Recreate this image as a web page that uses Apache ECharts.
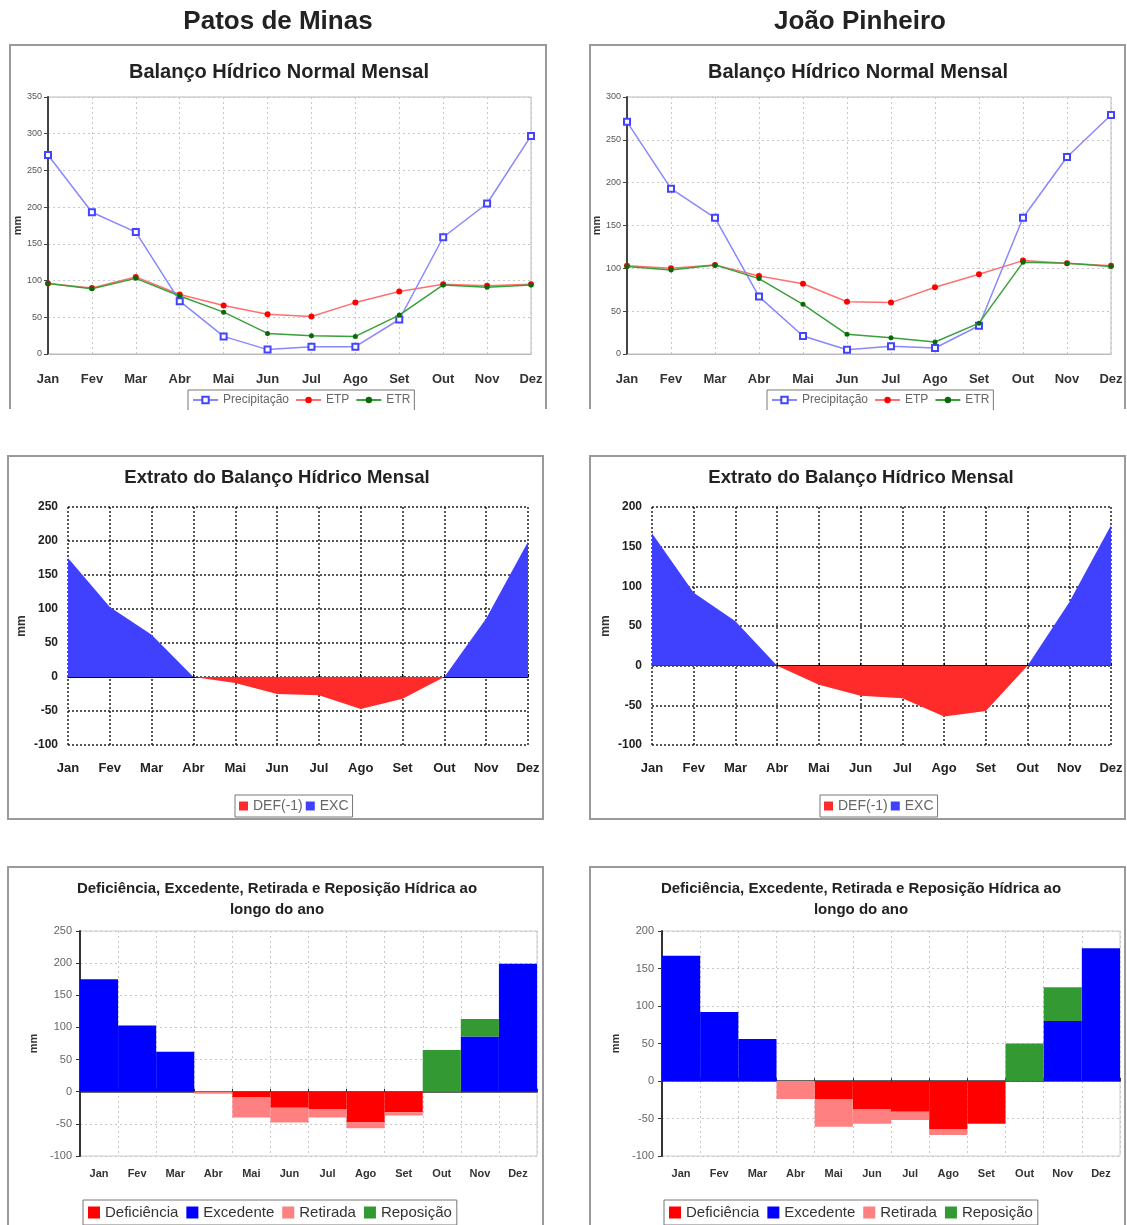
<!DOCTYPE html>
<html><head><meta charset="utf-8">
<script src="https://cdn.jsdelivr.net/npm/echarts@6/dist/echarts.min.js"></script>
<style>html,body{margin:0;padding:0;background:#fff;} #c{width:1127px;height:1225px;}</style>
</head><body><div id="c"></div>
<script>
// ---------- DATA ----------
const months = ['Jan','Fev','Mar','Abr','Mai','Jun','Jul','Ago','Set','Out','Nov','Dez'];

// Patos de Minas
const patosPrecip = [271,193,166,72,24,6,10,10,47,159,205,297];
const patosETP    = [96,90,105,81,66,54,51,70,85,95,93,95];
const patosETR    = [96,89,103,79,57,28,25,24,53,94,91,94];
const patosDEF    = [0,0,0,0,-9,-25,-27,-47,-32,0,0,0];
const patosEXC    = [175,103,62,0,0,0,0,0,0,0,86,199];
const patosRetirada  = [0,0,0,-3,-31,-23,-13,-10,-5,0,0,0];
const patosReposicao = [0,0,0,0,0,0,0,0,0,65,27,0];

// João Pinheiro
const joaoPrecip = [271,193,159,67,21,5,9,7,33,159,230,279];
const joaoETP    = [103,100,104,91,82,61,60,78,93,109,106,103];
const joaoETR    = [102,98,104,88,58,23,19,14,36,107,106,102];
const joaoDEF    = [0,0,0,0,-24,-38,-41,-64,-57,0,0,0];
const joaoEXC    = [167,92,56,0,0,0,0,0,0,0,80,177];
const joaoRetirada  = [0,0,0,-24,-37,-19,-11,-8,0,0,0,0];
const joaoReposicao = [0,0,0,0,0,0,0,0,0,50,45,0];

// axis tick settings
const yTop1 = {min:0, max:350, interval:50};
const yTop2 = {min:0, max:300, interval:50};
const yMid1 = {min:-100, max:250, interval:50};
const yMid2 = {min:-100, max:200, interval:50};
const yBot1 = {min:-100, max:250, interval:50};
const yBot2 = {min:-100, max:200, interval:50};

// ---------- CHART ----------
const FONT = '"Liberation Sans", Arial, sans-serif';
const chart = echarts.init(document.getElementById('c'));

function title(text, x, y, size, extra) {
  return Object.assign({
    text: text, left: x, top: y, textAlign: 'center', textVerticalAlign: 'middle', padding: 0,
    textStyle: {fontFamily: FONT, fontWeight: 'bold', fontSize: size, color: '#222'}
  }, extra || {});
}

const grids = [
  {left:48, top:97, width:483, height:257, show:true, borderColor:'#bbb', borderWidth:1},
  {left:627, top:97, width:484, height:257, show:true, borderColor:'#bbb', borderWidth:1},
  {left:68, top:507, width:460, height:238},
  {left:652, top:507, width:459, height:238},
  {left:80, top:931, width:457, height:225, show:true, borderColor:'#ccc', borderWidth:1},
  {left:662, top:931, width:458, height:225, show:true, borderColor:'#ccc', borderWidth:1}
].map(g => Object.assign({containLabel:false, outerBoundsMode:'none'}, g));

function xTop(gi) {
  return {type:'category', gridIndex:gi, data:months, boundaryGap:false,
    axisLine:{show:true, lineStyle:{color:'#bbb'}}, axisTick:{show:false},
    axisLabel:{interval:0, margin:19, fontFamily:FONT, fontWeight:'bold', fontSize:13, color:'#333'},
    splitLine:{show:true, interval:0, lineStyle:{color:'#c8c8c8', type:[2,3], width:1}}};
}
function xMid(gi) {
  return {type:'category', gridIndex:gi, data:months, boundaryGap:false,
    axisLine:{show:false, onZero:false}, axisTick:{show:false},
    axisLabel:{interval:0, margin:17, fontFamily:FONT, fontWeight:'bold', fontSize:13, color:'#222'},
    splitLine:{show:true, interval:0, lineStyle:{color:'#222', type:[2,2], width:1.5}}};
}
function xBot(gi) {
  return {type:'category', gridIndex:gi, data:months, boundaryGap:true,
    axisLine:{show:false, onZero:false}, axisTick:{show:false},
    axisLabel:{interval:0, margin:12, fontFamily:FONT, fontWeight:'bold', fontSize:11, color:'#333'},
    splitLine:{show:true, interval:0, lineStyle:{color:'#c8c8c8', type:[2,3], width:1}}};
}
function xZero(gi, gap, color, w) {
  return {type:'category', gridIndex:gi, data:months, boundaryGap:gap,
    axisLine:{show:true, onZero:true, lineStyle:{color:color, width:w}},
    axisTick:{show:true, length:3, interval:0, lineStyle:{color:color}},
    axisLabel:{show:false}, splitLine:{show:false}};
}
function yTop(gi, r, gap) {
  return Object.assign({type:'value', gridIndex:gi, name:'mm', nameLocation:'middle', nameGap:gap, nameRotate:90,
    nameTextStyle:{fontFamily:FONT, fontWeight:'bold', fontSize:11, color:'#333'},
    axisLine:{show:true, lineStyle:{color:'#444', width:2}},
    axisTick:{show:true, length:4, lineStyle:{color:'#444'}},
    axisLabel:{margin:6, fontFamily:FONT, fontSize:9, color:'#555'},
    splitLine:{show:true, lineStyle:{color:'#c8c8c8', type:[2,3], width:1}}}, r);
}
function yMid(gi, r, gap) {
  return Object.assign({type:'value', gridIndex:gi, name:'mm', nameLocation:'middle', nameGap:gap, nameRotate:90,
    nameTextStyle:{fontFamily:FONT, fontWeight:'bold', fontSize:12, color:'#333'},
    axisLine:{show:false}, axisTick:{show:false},
    axisLabel:{margin:10, fontFamily:FONT, fontWeight:'bold', fontSize:12, color:'#222'},
    splitLine:{show:true, lineStyle:{color:'#222', type:[2,2], width:1.5}}}, r);
}
function yBot(gi, r, gap) {
  return Object.assign({type:'value', gridIndex:gi, name:'mm', nameLocation:'middle', nameGap:gap, nameRotate:90,
    nameTextStyle:{fontFamily:FONT, fontWeight:'bold', fontSize:11, color:'#333'},
    axisLine:{show:true, lineStyle:{color:'#333', width:2}},
    axisTick:{show:true, length:4, lineStyle:{color:'#333'}},
    axisLabel:{margin:8, fontFamily:FONT, fontSize:11, color:'#666'},
    splitLine:{show:true, lineStyle:{color:'#c8c8c8', type:[2,3], width:1}}}, r);
}

function lineSeries(xi, yi, p, etp, etr) {
  return [
    {name:'Precipitação', type:'line', xAxisIndex:xi, yAxisIndex:yi, data:p, symbol:'emptyRect', symbolSize:6,
      itemStyle:{color:'#4444ff', borderWidth:1.2}, lineStyle:{color:'#8888ff', width:1.5}, z:3},
    {name:'ETP', type:'line', xAxisIndex:xi, yAxisIndex:yi, data:etp, symbol:'circle', symbolSize:6,
      itemStyle:{color:'#ff0000'}, lineStyle:{color:'#ff7070', width:1.5}, z:2},
    {name:'ETR', type:'line', xAxisIndex:xi, yAxisIndex:yi, data:etr, symbol:'circle', symbolSize:5,
      itemStyle:{color:'#0a6a0a'}, lineStyle:{color:'#3aa03a', width:1.5}, z:4}
  ];
}
function areaSeries(xi, yi, def, exc) {
  return [
    {name:'DEF(-1)', type:'line', xAxisIndex:xi, yAxisIndex:yi, data:def, symbol:'none',
      itemStyle:{color:'#ff2a2a'}, lineStyle:{width:0}, areaStyle:{color:'#ff2a2a', opacity:1}},
    {name:'EXC', type:'line', xAxisIndex:xi, yAxisIndex:yi, data:exc, symbol:'none',
      itemStyle:{color:'#4040ff'}, lineStyle:{width:0}, areaStyle:{color:'#4040ff', opacity:1}}
  ];
}
function barSeries(xi, yi, def, exc, ret, rep, st) {
  const b = {type:'bar', xAxisIndex:xi, yAxisIndex:yi, stack:st, barWidth:'100%', barCategoryGap:'0%'};
  return [
    Object.assign({name:'Deficiência', data:def, itemStyle:{color:'#ff0000'}}, b),
    Object.assign({name:'Excedente', data:exc, itemStyle:{color:'#0000ff'}}, b),
    Object.assign({name:'Retirada', data:ret, itemStyle:{color:'#ff8080'}}, b),
    Object.assign({name:'Reposição', data:rep, itemStyle:{color:'#339933'}}, b)
  ];
}

function legend(names, left, top, opts) {
  return Object.assign({data:names, left:left, top:top, orient:'horizontal', selectedMode:false,
    borderColor:'#777', borderWidth:1, borderRadius:0, backgroundColor:'#fff'}, opts);
}

const frameStyle = {stroke:'#9a9a9a', lineWidth:2, fill:null};
const botTitle = 'Deficiência, Excedente, Retirada e Reposição Hídrica ao\nlongo do ano';
const botTitleStyle = {textStyle:{fontFamily:FONT, fontWeight:'bold', fontSize:15, color:'#222', lineHeight:21}};

const option = {
  backgroundColor:'#fff',
  animation:false,
  title:[
    title('Patos de Minas', 278, 22, 26),
    title('João Pinheiro', 860, 22, 26),
    title('Balanço Hídrico Normal Mensal', 279, 72, 20),
    title('Balanço Hídrico Normal Mensal', 858, 72, 20),
    title('Extrato do Balanço Hídrico Mensal', 277, 478, 18.5),
    title('Extrato do Balanço Hídrico Mensal', 861, 478, 18.5),
    title(botTitle, 277, 899, 15, botTitleStyle),
    title(botTitle, 861, 899, 15, botTitleStyle)
  ],
  grid: grids,
  xAxis:[xTop(0), xTop(1), xMid(2), xMid(3), xBot(4), xBot(5),
         xZero(2,false,'#000',1), xZero(3,false,'#000',1), xZero(4,true,'#333',1.5), xZero(5,true,'#333',1.5)],
  yAxis:[yTop(0,yTop1,20), yTop(1,yTop2,19), yMid(2,yMid1,40), yMid(3,yMid2,40), yBot(4,yBot1,41), yBot(5,yBot2,41)],
  legend:[
    legend(['Precipitação','ETP','ETR'], 188, 390, {padding:[4,4,8,4], itemGap:6, itemWidth:25, itemHeight:8,
      textStyle:{fontFamily:FONT, fontSize:12, color:'#666'}}),
    legend(['Precipitação','ETP','ETR'], 767, 390, {padding:[4,4,8,4], itemGap:6, itemWidth:25, itemHeight:8,
      textStyle:{fontFamily:FONT, fontSize:12, color:'#666'}}),
    legend(['DEF(-1)','EXC'], 235, 795, {padding:[4,4], itemGap:3, itemWidth:9, itemHeight:9, icon:'rect',
      textStyle:{fontFamily:FONT, fontSize:14, color:'#666'}}),
    legend(['DEF(-1)','EXC'], 820, 795, {padding:[4,4], itemGap:3, itemWidth:9, itemHeight:9, icon:'rect',
      textStyle:{fontFamily:FONT, fontSize:14, color:'#666'}}),
    legend(['Deficiência','Excedente','Retirada','Reposição'], 83, 1200, {padding:[5,5], itemGap:8, itemWidth:12, itemHeight:12, icon:'rect',
      textStyle:{fontFamily:FONT, fontSize:15, color:'#333'}}),
    legend(['Deficiência','Excedente','Retirada','Reposição'], 664, 1200, {padding:[5,5], itemGap:8, itemWidth:12, itemHeight:12, icon:'rect',
      textStyle:{fontFamily:FONT, fontSize:15, color:'#333'}})
  ],
  series:[].concat(
    lineSeries(0,0,patosPrecip,patosETP,patosETR),
    lineSeries(1,1,joaoPrecip,joaoETP,joaoETR),
    areaSeries(2,2,patosDEF,patosEXC),
    areaSeries(3,3,joaoDEF,joaoEXC),
    barSeries(4,4,patosDEF,patosEXC,patosRetirada,patosReposicao,'p'),
    barSeries(5,5,joaoDEF,joaoEXC,joaoRetirada,joaoReposicao,'j')
  ),
  graphic:[
    {type:'rect', silent:true, z:100, shape:{x:0, y:410, width:1127, height:44}, style:{fill:'#fff'}},
    {type:'polyline', silent:true, z:101, shape:{points:[[10,409],[10,45],[546,45],[546,409]]}, style:frameStyle},
    {type:'polyline', silent:true, z:101, shape:{points:[[590,409],[590,45],[1125,45],[1125,409]]}, style:frameStyle},
    {type:'rect', silent:true, z:101, shape:{x:8, y:456, width:535, height:363}, style:frameStyle},
    {type:'rect', silent:true, z:101, shape:{x:590, y:456, width:535, height:363}, style:frameStyle},
    {type:'polyline', silent:true, z:101, shape:{points:[[8,1230],[8,867],[543,867],[543,1230]]}, style:frameStyle},
    {type:'polyline', silent:true, z:101, shape:{points:[[590,1230],[590,867],[1125,867],[1125,1230]]}, style:frameStyle}
  ]
};
chart.setOption(option);
</script>
</body></html>
